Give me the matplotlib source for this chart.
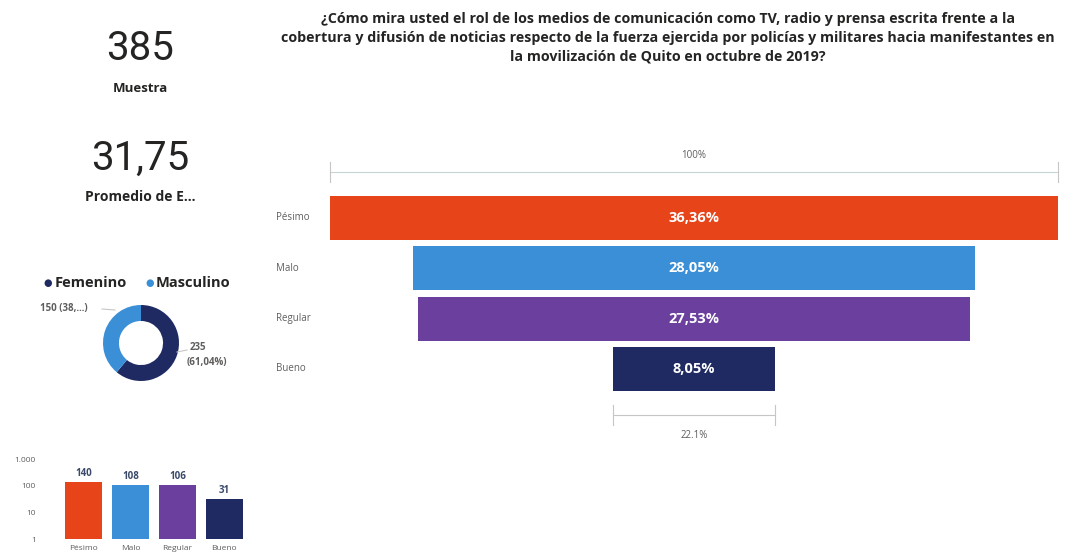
import matplotlib
matplotlib.use("Agg")
import matplotlib.pyplot as plt
import numpy as np

# ---- data ----
categories = ["Pésimo", "Malo", "Regular", "Bueno"]
counts = [140, 108, 106, 31]
bar_colors = ["#E8441A", "#3A8FD6", "#6A3F9E", "#1F2A62"]
sample_size = 385
avg_value = "31,75"
gender_labels = ["Femenino", "Masculino"]
gender_counts = [235, 150]
gender_colors = ["#1F2A62", "#3A8FD6"]
log_ticks = [1, 10, 100, 1000]
log_tick_labels = ["1", "10", "100", "1.000"]

title = ("¿Cómo mira usted el rol de los medios de comunicación como TV, radio y prensa escrita frente a la\n"
         "cobertura y difusión de noticias respecto de la fuerza ejercida por policías y militares hacia manifestantes en\n"
         "la movilización de Quito en octubre de 2019?")

W, H = 1067, 556
fig = plt.figure(figsize=(W / 100, H / 100), dpi=100)
fig.patch.set_facecolor("white")


def box(x0, y0, x1, y1):
    return [x0 / W, 1 - y1 / H, (x1 - x0) / W, (y1 - y0) / H]


def ftext(x, y, s, **kw):
    fig.text(x / W, 1 - y / H, s, **kw)


dark = "#252423"
grey = "#605E5C"
FONT = "Open Sans"

# ---- title ----
ftext(668, 38, title, ha="center", va="center", fontsize=10.3, fontweight="bold",
      family=FONT, color=dark, linespacing=1.45)

# ---- cards ----
ftext(140, 49, f"{sample_size}", ha="center", va="center", fontsize=29, family="Roboto", color=dark)
ftext(140, 88, "Muestra", ha="center", va="center", fontsize=9.5, fontweight="bold", family=FONT, color=dark)
ftext(140, 158, avg_value, ha="center", va="center", fontsize=29, family="Roboto", color=dark)
ftext(140, 197, "Promedio de E...", ha="center", va="center", fontsize=10, fontweight="bold", family=FONT, color=dark)

# ---- donut legend ----
ftext(43, 283, "●", ha="left", va="center", fontsize=7, color=gender_colors[0])
ftext(55, 283, gender_labels[0], ha="left", va="center", fontsize=10.5, fontweight="bold", family=FONT, color=dark)
ftext(145, 283, "●", ha="left", va="center", fontsize=7, color=gender_colors[1])
ftext(156, 283, gender_labels[1], ha="left", va="center", fontsize=10.5, fontweight="bold", family=FONT, color=dark)

# ---- donut ----
axd = fig.add_axes(box(103, 305, 179, 381))
axd.pie(gender_counts, colors=gender_colors, startangle=90, counterclock=False,
        radius=1, wedgeprops=dict(width=0.42, edgecolor="none"))
axd.set_xlim(-1, 1)
axd.set_ylim(-1, 1)
axd.set_aspect("equal")
axd.axis("off")

total_g = sum(gender_counts)
pct_f = gender_counts[0] / total_g * 100
pct_m = gender_counts[1] / total_g * 100
label_m = f"{gender_counts[1]} ({pct_m:.2f}%)".replace(".", ",")
ftext(40, 309, label_m[:8] + "...)", ha="left", va="center",
      fontsize=7, fontweight="bold", family=FONT, color=grey)
fig.add_artist(plt.Line2D([102 / W, 115 / W], [1 - 309 / H, 1 - 310 / H], color="#C8C6C4", lw=0.8))
ftext(190, 347, f"{gender_counts[0]}", ha="left", va="center", fontsize=7, fontweight="bold",
      family=FONT, color=grey)
ftext(187, 362, f"({pct_f:.2f}%)".replace(".", ","), ha="left", va="center", fontsize=7,
      fontweight="bold", family=FONT, color=grey)
fig.add_artist(plt.Line2D([177 / W, 187 / W], [1 - 352 / H, 1 - 350 / H], color="#C8C6C4", lw=0.8))

# ---- funnel ----
axf = fig.add_axes(box(330, 140, 1058, 450))
top = max(counts)
step = 50.3
for i, (c, col) in enumerate(zip(counts, bar_colors)):
    w = c / top * 100
    axf.barh(i, w, left=-w / 2, height=44 / step, color=col, edgecolor="none")
    pct = c / sample_size * 100
    axf.text(0, i, f"{pct:.2f}%".replace(".", ","), ha="center", va="center", color="white",
             fontsize=10.5, fontweight="bold", family=FONT)
    axf.text((276 - 694) / 7.28, i, categories[i], ha="left", va="center", fontsize=7,
             color=grey, family=FONT, clip_on=False)

axf.set_xlim(-50, 50)
axf.set_ylim((450 - 218) / step, (140 - 218) / step)
axf.axis("off")

# brackets
yt = (172 - 218) / step
axf.plot([-50, 50], [yt, yt], color="#C8D4D4", lw=0.8, clip_on=False)
axf.plot([-50, -50], [yt - 0.2, yt + 0.2], color="#C8C6C4", lw=0.8, clip_on=False)
axf.plot([50, 50], [yt - 0.2, yt + 0.2], color="#C8C6C4", lw=0.8, clip_on=False)
axf.text(0, (156 - 218) / step, "100%", ha="center", va="center", fontsize=7, color=grey, family=FONT)

last_w = counts[-1] / top * 100
yb = (415 - 218) / step
axf.plot([-last_w / 2, last_w / 2], [yb, yb], color="#C8C6C4", lw=0.8, clip_on=False)
axf.plot([-last_w / 2, -last_w / 2], [yb - 0.2, yb + 0.2], color="#C8C6C4", lw=0.8, clip_on=False)
axf.plot([last_w / 2, last_w / 2], [yb - 0.2, yb + 0.2], color="#C8C6C4", lw=0.8, clip_on=False)
axf.text(0, (436 - 218) / step, f"{last_w:.1f}%", ha="center", va="center", fontsize=7,
         color=grey, family=FONT)

# ---- small log bar chart ----
axb = fig.add_axes(box(58, 459, 250, 539))
xpos = np.arange(len(categories))
axb.bar(xpos, counts, color=bar_colors, width=0.8, bottom=0)
axb.set_yscale("log")
axb.set_ylim(1, 1000)
axb.set_xlim(-0.55, 3.55)
axb.set_yticks(log_ticks)
axb.set_yticklabels(log_tick_labels)
axb.minorticks_off()
axb.set_xticks(xpos)
axb.set_xticklabels(categories)
axb.tick_params(axis="x", length=0, labelsize=6, colors=grey, pad=4)
axb.tick_params(axis="y", length=0, labelsize=6, colors=grey, pad=16)
for lbl in axb.get_xticklabels() + axb.get_yticklabels():
    lbl.set_family(FONT)
for s in axb.spines.values():
    s.set_visible(False)
for x, c in zip(xpos, counts):
    axb.text(x, c * 1.3, f"{c}", ha="center", va="bottom", fontsize=7, fontweight="bold",
             color="#3B4A6B", family=FONT)

fig.savefig("out.png", dpi=100, facecolor="white")
